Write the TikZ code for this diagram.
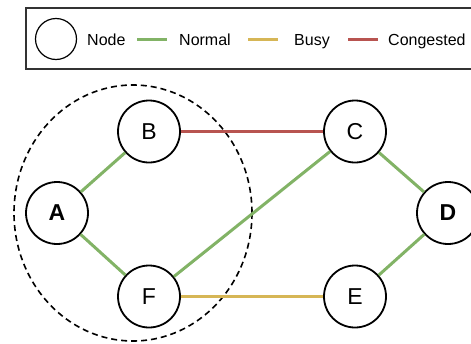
\documentclass[tikz,border=0pt]{standalone}
\usepackage{fontspec}
\setmainfont{Liberation Sans}
\definecolor{normalc}{HTML}{82B366}
\definecolor{busyc}{HTML}{D6B656}
\definecolor{congc}{HTML}{B85450}
\begin{document}
\begin{tikzpicture}[x=1pt,y=-1pt,
  netnode/.style={circle,draw=black,line width=1.8pt,fill=white,minimum size=62pt,inner sep=0pt,font=\fontsize{23}{27}\selectfont},
  keytext/.style={anchor=base west,inner sep=0pt,font=\fontsize{16}{19}\selectfont},
  link/.style={line width=3pt},
  normal/.style={link,draw=normalc},
  busy/.style={link,draw=busyc},
  congested/.style={link,draw=congc}]
\useasboundingbox (0,0) rectangle (471,343);
\clip (0,0) rectangle (471,343);

% legend
\draw[draw=black!80,line width=1.2pt] (26,8) rectangle (490,69);
\node[circle,draw=black,line width=1.2pt,minimum size=41pt,inner sep=0pt] (keycirc) at (56,39) {};
\node[keytext] (knode) at (87,45.5) {Node};
\coordinate (kg1) at (137,39.5); \coordinate (kg2) at (167,39.5);
\draw[normal] (kg1) -- (kg2);
\node[keytext] (knormal) at (179,45.5) {Normal};
\coordinate (ky1) at (248,39.5); \coordinate (ky2) at (278,39.5);
\draw[busy] (ky1) -- (ky2);
\node[keytext] (kbusy) at (294,45.5) {Busy};
\coordinate (kr1) at (348,39.5); \coordinate (kr2) at (378,39.5);
\draw[congested] (kr1) -- (kr2);
\node[keytext] (kcong) at (388,45.5) {Congested};

% dashed group around A, B, F
\draw[dash pattern=on 6pt off 4pt,line width=1.6pt] (133,213) ellipse [x radius=119, y radius=128];

% network nodes
\node[netnode] (A) at (57,213) {\textbf{A}};
\node[netnode] (B) at (149,131.5) {B};
\node[netnode] (F) at (149,296.5) {F};
\node[netnode] (C) at (355,131.5) {C};
\node[netnode] (D) at (448,213) {\textbf{D}};
\node[netnode] (E) at (355,296.5) {E};

% links between nodes
\draw[normal] (A) -- (B);
\draw[normal] (A) -- (F);
\draw[congested] (B) -- (C);
\draw[normal] (F) -- (C);
\draw[busy] (F) -- (E);
\draw[normal] (C) -- (D);
\draw[normal] (E) -- (D);
\end{tikzpicture}
\end{document}
